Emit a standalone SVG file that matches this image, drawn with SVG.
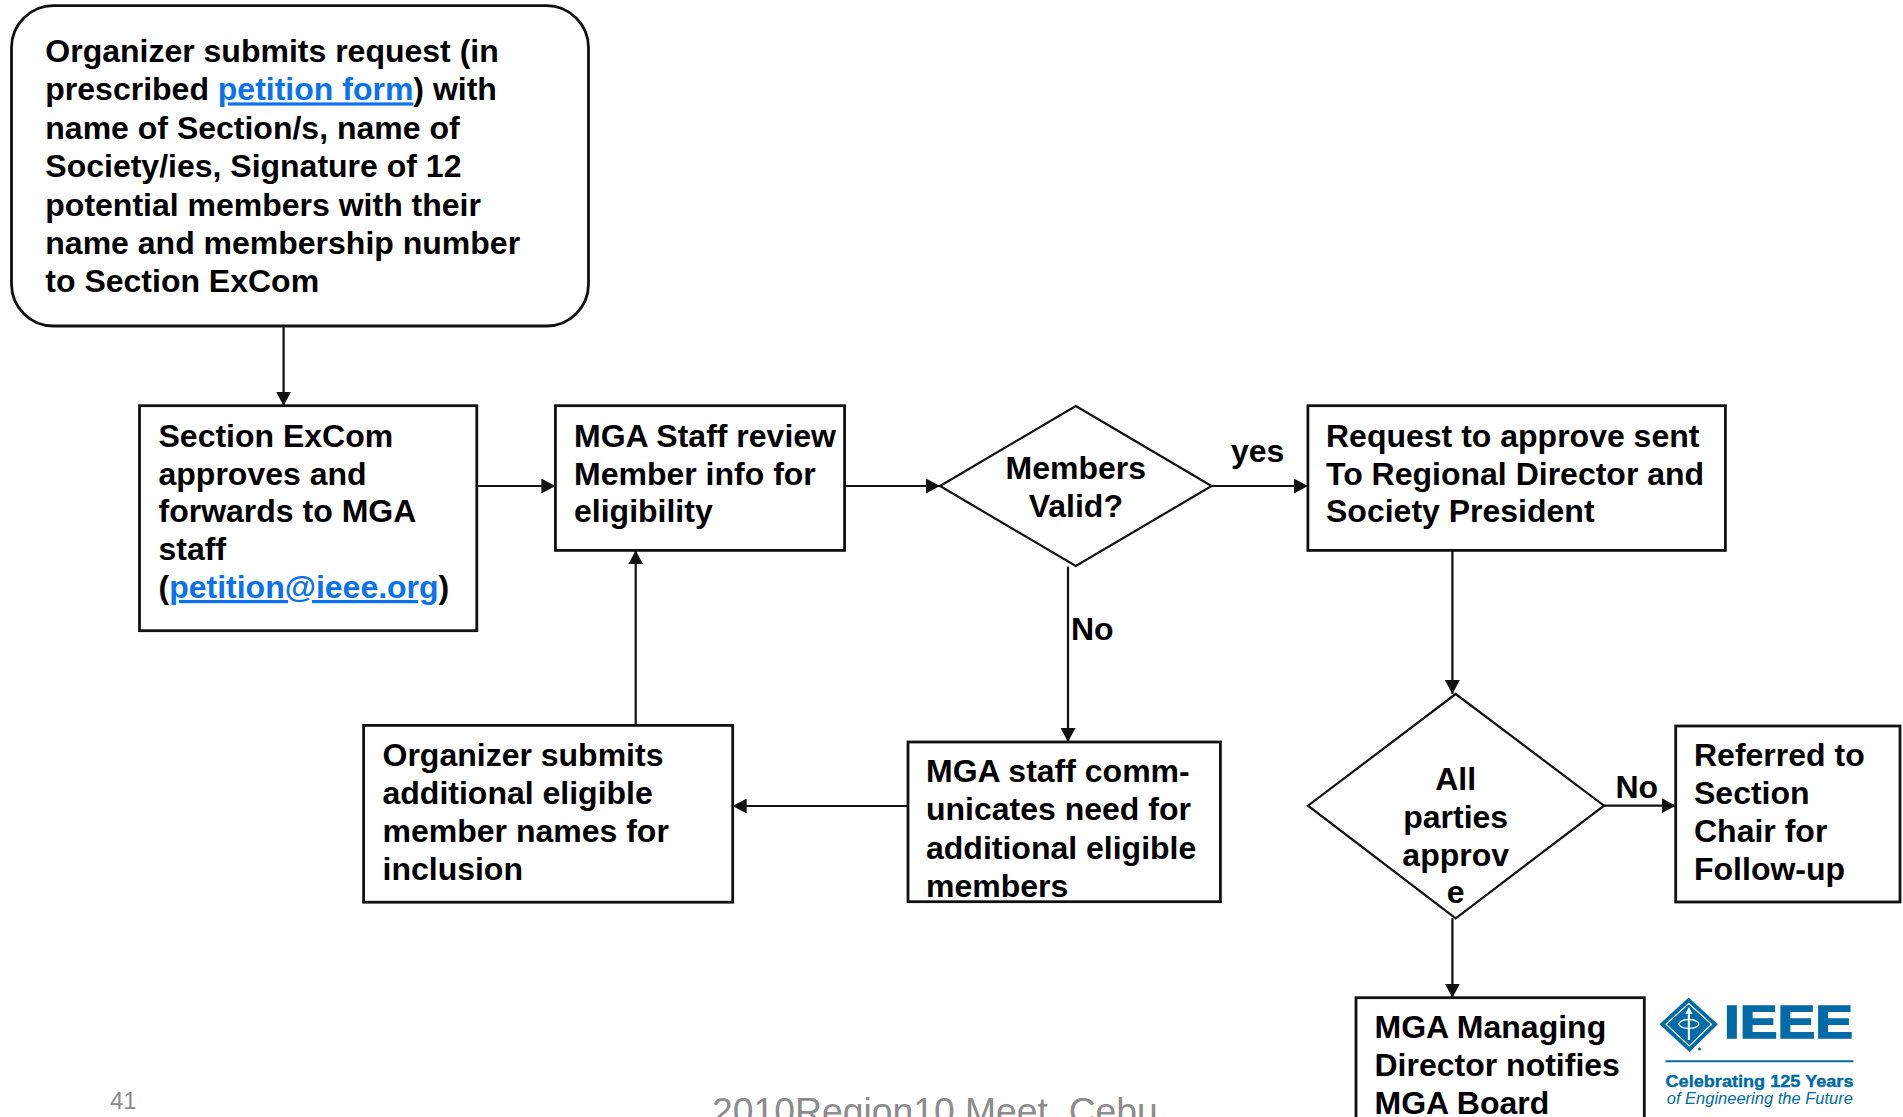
<svg xmlns="http://www.w3.org/2000/svg" width="1903" height="1117" viewBox="0 0 1903 1117">
<defs>
<style>
.t{font-family:"Liberation Sans",Arial,sans-serif;font-weight:bold;font-size:32px;fill:#000}
.c{text-anchor:middle}
.lnk{fill:#0A72F0;text-decoration:underline}
.box{fill:#fff;stroke:#111;stroke-width:2.8}
.dia{fill:#fff;stroke:#111;stroke-width:2.2}
.con{fill:none;stroke:#111;stroke-width:2.2}
.foot{font-family:"Liberation Sans",Arial,sans-serif;fill:#8C8C8C}
.ieee{fill:#006BA6}
</style>
<marker id="ah" markerUnits="userSpaceOnUse" markerWidth="14" markerHeight="15" refX="14" refY="7.5" orient="auto">
<path d="M0,0 L14,7.5 L0,15 z" fill="#111"/>
</marker>
</defs>
<rect width="1903" height="1117" fill="#fff"/>

<g id="connectors">
<line class="con" x1="283.6" y1="326" x2="283.6" y2="405.7" marker-end="url(#ah)"/>
<line class="con" x1="476.8" y1="486" x2="555.4" y2="486" marker-end="url(#ah)"/>
<line class="con" x1="844.6" y1="486" x2="940" y2="486" marker-end="url(#ah)"/>
<line class="con" x1="1211.6" y1="486" x2="1307.9" y2="486" marker-end="url(#ah)"/>
<line class="con" x1="1068" y1="566.6" x2="1068" y2="742" marker-end="url(#ah)"/>
<line class="con" x1="908" y1="806" x2="732.7" y2="806" marker-end="url(#ah)"/>
<line class="con" x1="635.7" y1="725.4" x2="635.7" y2="550.4" marker-end="url(#ah)"/>
<line class="con" x1="1452.4" y1="550.4" x2="1452.4" y2="694" marker-end="url(#ah)"/>
<line class="con" x1="1604" y1="805.7" x2="1675.7" y2="805.7" marker-end="url(#ah)"/>
<line class="con" x1="1452.4" y1="918.3" x2="1452.4" y2="997.7" marker-end="url(#ah)"/>
<text class="t" x="1231" y="462">yes</text>
<text class="t" x="1071" y="639.5">No</text>
<text class="t" x="1615.5" y="798">No</text>
</g>

<g id="n-request-start">
<rect class="box" x="11.5" y="5.7" width="577" height="320.3" rx="42" ry="42" stroke-width="2.4"/>
<text class="t" x="45.3" y="62">Organizer submits request (in</text>
<text class="t" x="45.3" y="100.4">prescribed <tspan class="lnk">petition form</tspan>) with</text>
<text class="t" x="45.3" y="138.8">name of Section/s, name of</text>
<text class="t" x="45.3" y="177.2">Society/ies, Signature of 12</text>
<text class="t" x="45.3" y="215.6">potential members with their</text>
<text class="t" x="45.3" y="254">name and membership number</text>
<text class="t" x="45.3" y="292.4">to Section ExCom</text>
</g>

<g id="n-section-excom">
<rect class="box" x="139.5" y="405.7" width="337.3" height="225"/>
<text class="t" x="158.5" y="446.8">Section ExCom</text>
<text class="t" x="158.5" y="484.6">approves and</text>
<text class="t" x="158.5" y="522.4">forwards to MGA</text>
<text class="t" x="158.5" y="560.2">staff</text>
<text class="t" x="158.5" y="598">(<tspan class="lnk">petition@ieee.org</tspan>)</text>
</g>

<g id="n-mga-review">
<rect class="box" x="555.4" y="405.7" width="289.2" height="144.7"/>
<text class="t" x="574" y="446.8">MGA Staff review</text>
<text class="t" x="574" y="484.6">Member info for</text>
<text class="t" x="574" y="522.4">eligibility</text>
</g>

<g id="n-members-valid">
<polygon class="dia" points="1075.8,406 1211.6,486 1075.8,566 940,486"/>
<text class="t c" x="1075.8" y="478.5">Members</text>
<text class="t c" x="1075.8" y="516.5">Valid?</text>
</g>

<g id="n-request-rd">
<rect class="box" x="1307.9" y="405.7" width="417.5" height="144.7"/>
<text class="t" x="1326" y="446.8">Request to approve sent</text>
<text class="t" x="1326" y="484.6">To Regional Director and</text>
<text class="t" x="1326" y="522.4">Society President</text>
</g>

<g id="n-organizer-additional">
<rect class="box" x="363.6" y="725.4" width="369.1" height="176.8"/>
<text class="t" x="382.5" y="765.7">Organizer submits</text>
<text class="t" x="382.5" y="803.7">additional eligible</text>
<text class="t" x="382.5" y="841.7">member names for</text>
<text class="t" x="382.5" y="879.7">inclusion</text>
</g>

<g id="n-mga-communicates">
<rect class="box" x="908" y="742" width="312.4" height="159.7"/>
<text class="t" x="926" y="781.9">MGA staff comm-</text>
<text class="t" x="926" y="820.3">unicates need for</text>
<text class="t" x="926" y="858.7">additional eligible</text>
<text class="t" x="926" y="897.1">members</text>
</g>

<g id="n-all-approve">
<polygon class="dia" points="1455.7,694 1604,805.7 1455.7,918.3 1308,805.7"/>
<text class="t c" x="1455.7" y="790">All</text>
<text class="t c" x="1455.7" y="827.8">parties</text>
<text class="t c" x="1455.7" y="865.6">approv</text>
<text class="t c" x="1455.7" y="903.4">e</text>
</g>

<g id="n-referred">
<rect class="box" x="1675.7" y="726" width="224.3" height="176"/>
<text class="t" x="1694" y="766">Referred to</text>
<text class="t" x="1694" y="804">Section</text>
<text class="t" x="1694" y="842">Chair for</text>
<text class="t" x="1694" y="880">Follow-up</text>
</g>

<g id="n-mga-board">
<rect class="box" x="1356" y="997.7" width="288.3" height="140"/>
<text class="t" x="1374.5" y="1038">MGA Managing</text>
<text class="t" x="1374.5" y="1076">Director notifies</text>
<text class="t" x="1374.5" y="1114">MGA Board</text>
</g>

<g id="logo">
<polygon class="ieee" points="1688.7,997.5 1717.9,1024.2 1689.5,1052 1659.5,1024.2"/>
<polygon points="1688.7,1003.5 1711.5,1024.2 1689.3,1046 1666,1024.2" fill="none" stroke="#fff" stroke-width="1.2"/>
<line x1="1688.9" y1="1010" x2="1688.9" y2="1040" stroke="#fff" stroke-width="2.2"/>
<path d="M1688.9,1007 L1692.5,1014 L1685.3,1014 z" fill="#fff"/>
<ellipse cx="1688.9" cy="1024" rx="10" ry="4.5" fill="none" stroke="#fff" stroke-width="1.3"/>
<circle cx="1699.5" cy="1049" r="1.5" class="ieee"/>
<text class="ieee" x="1724" y="1037.7" font-family="'Liberation Sans',Arial,sans-serif" font-weight="bold" font-size="47" stroke="#006BA6" stroke-width="1.5" textLength="129" lengthAdjust="spacingAndGlyphs">IEEE</text>
<line x1="1665.5" y1="1061.2" x2="1853.4" y2="1061.2" stroke="#006BA6" stroke-width="2"/>
<text class="ieee" x="1665.5" y="1086.7" font-family="'Liberation Sans',Arial,sans-serif" font-weight="bold" font-size="16.5" stroke="#006BA6" stroke-width="0.4" textLength="188" lengthAdjust="spacingAndGlyphs">Celebrating 125 Years</text>
<text class="ieee" x="1666.8" y="1103.5" font-family="'Liberation Sans',Arial,sans-serif" font-style="italic" font-size="16" textLength="186" lengthAdjust="spacingAndGlyphs">of Engineering the Future</text>
</g>

<g id="footer">
<text class="foot" x="110" y="1109" font-size="24">41</text>
<text class="foot" x="712" y="1123.5" font-size="37.3">2010Region10 Meet, Cebu</text>
</g>
</svg>
